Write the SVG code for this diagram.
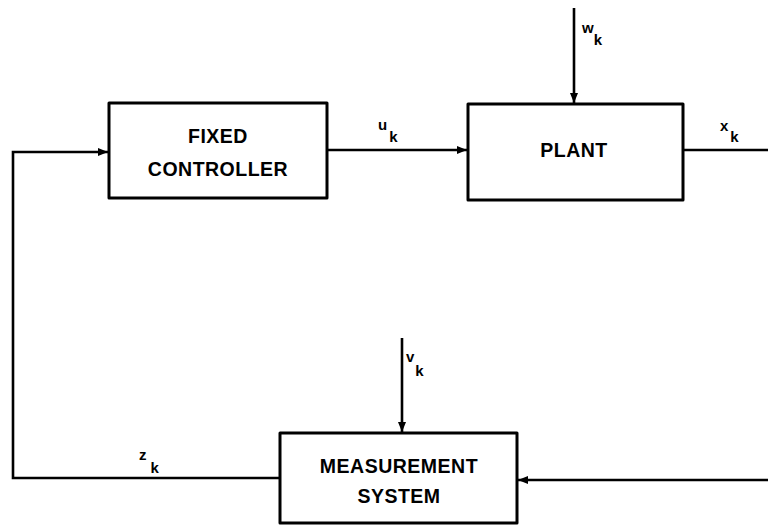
<svg xmlns="http://www.w3.org/2000/svg" width="768" height="526" viewBox="0 0 768 526">
<style>
.box{fill:#fff;stroke:#000;stroke-width:3;stroke-linejoin:round}
.ln{fill:none;stroke:#000;stroke-width:2.6}
.t{font-family:"Liberation Sans",Arial,sans-serif;font-weight:bold;font-size:19.5px;letter-spacing:0.5px;text-anchor:middle;fill:#000}
.lb{font-family:"Liberation Sans",Arial,sans-serif;font-weight:bold;font-size:15px;fill:#000}
</style>
<defs>
<marker id="ar" viewBox="0 0 10 10" refX="10" refY="5" markerWidth="4" markerHeight="4" orient="auto" markerUnits="strokeWidth">
<path d="M0,1 L10,5 L0,9 Q-2,5 0,1 Z" fill="#000"/>
</marker>
</defs>
<rect width="768" height="526" fill="#fff"/>
<g id="connectors">
<path class="ln" d="M280,478 H13 V152 H108" marker-end="url(#ar)"/>
<path class="ln" d="M327,150 H467" marker-end="url(#ar)"/>
<path class="ln" d="M574,8 V103" marker-end="url(#ar)"/>
<path class="ln" d="M683,150 H768"/>
<path class="ln" d="M768,480 H518" marker-end="url(#ar)"/>
<path class="ln" d="M402,338 V432" marker-end="url(#ar)"/>
<text class="lb" x="378" y="130">u<tspan dx="2" dy="12">k</tspan></text>
<text class="lb" x="582" y="33">w<tspan dy="12">k</tspan></text>
<text class="lb" x="720" y="131">x<tspan dx="2" dy="11">k</tspan></text>
<text class="lb" x="406" y="362">v<tspan dx="1" dy="14">k</tspan></text>
<text class="lb" x="139" y="460">z<tspan dx="4" dy="13">k</tspan></text>
</g>
<g id="fixed-controller">
<rect class="box" x="109" y="103" width="218" height="95"/>
<text class="t" x="218" y="143">FIXED</text>
<text class="t" x="218" y="176">CONTROLLER</text>
</g>
<g id="plant">
<rect class="box" x="468" y="104" width="215" height="96"/>
<text class="t" x="574" y="157">PLANT</text>
</g>
<g id="measurement-system">
<rect class="box" x="280" y="433" width="237" height="90"/>
<text class="t" x="399" y="473">MEASUREMENT</text>
<text class="t" x="399" y="503">SYSTEM</text>
</g>
</svg>
